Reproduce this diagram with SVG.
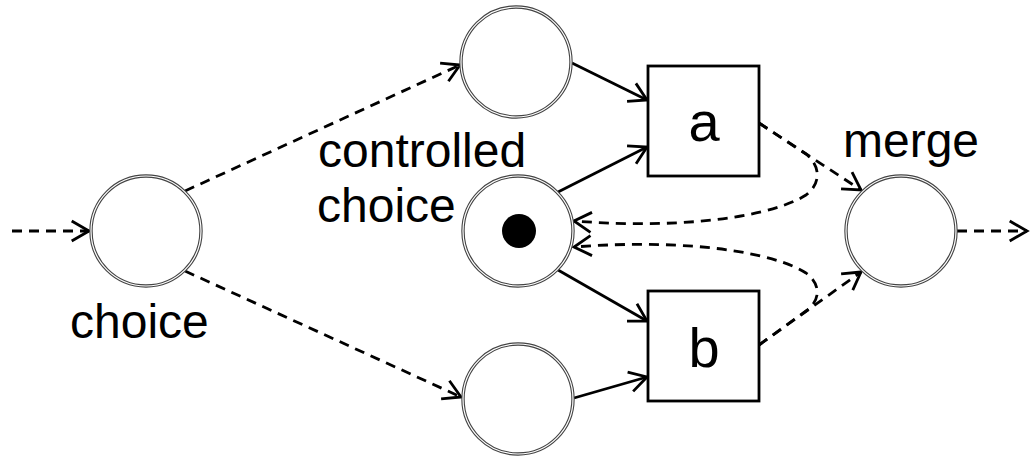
<svg xmlns="http://www.w3.org/2000/svg" width="1031" height="458" viewBox="0 0 1031 458">
  <style>
    .ring-out { fill: #ffffff; stroke: #444444; stroke-width: 3.4; }
    .ring-in { fill: none; stroke: #ffffff; stroke-width: 1.2; }
    .box { fill: #ffffff; stroke: #000000; stroke-width: 2.8; }
    .arc { fill: none; stroke: #000000; stroke-width: 2.8; marker-end: url(#head); }
    .dash { stroke-dasharray: 10 7; }
    .lbl { font-family: "Liberation Sans", Arial, sans-serif; font-size: 48px; fill: #000000; }
    .tr { font-family: "Liberation Sans", Arial, sans-serif; font-size: 56px; fill: #000000; text-anchor: middle; }
  </style>
  <defs>
    <marker id="head" markerUnits="userSpaceOnUse" orient="auto" markerWidth="40" markerHeight="40" refX="0" refY="0" viewBox="-20 -20 40 40" overflow="visible">
      <path d="M-17.3,-10 L0,0 L-17.3,10" fill="none" stroke="#000000" stroke-width="2.8" stroke-linejoin="miter"/>
    </marker>
  </defs>

  <rect width="1031" height="458" fill="#ffffff"/>

  <g id="connectors">
    <!-- entry and exit -->
    <path class="arc dash" d="M12,231 L89,231"/>
    <path class="arc dash" d="M957,231 L1027,231"/>
    <!-- choice to the two branch places -->
    <path class="arc dash" d="M185,191 L460,65"/>
    <path class="arc dash" d="M185,271 L461,397"/>
    <!-- places into transitions -->
    <path class="arc" d="M572,63 L647,100"/>
    <path class="arc" d="M558,192 L647,147"/>
    <path class="arc" d="M558,270 L647,321"/>
    <path class="arc" d="M574,398 L647,377"/>
    <!-- transitions into merge -->
    <path class="arc dash" d="M759,123 L861,190"/>
    <path class="arc dash" d="M759,345 L861,272"/>
    <!-- transitions back to the controlled choice place -->
    <path class="arc dash" d="M759,123 L806,154 C820,165 822,183 806,195 C775,215 690,230 574,221"/>
    <path class="arc dash" d="M759,345 L806,311 C820,301 822,285 806,273 C775,253 690,238 574,247"/>
  </g>

  <g id="p-choice">
    <circle class="ring-out" cx="146" cy="231" r="55"/>
    <circle class="ring-in" cx="146" cy="231" r="55"/>
    <text class="lbl" x="70" y="338">choice</text>
  </g>

  <g id="p-top">
    <circle class="ring-out" cx="516" cy="62" r="55"/>
    <circle class="ring-in" cx="516" cy="62" r="55"/>
  </g>

  <g id="p-controlled">
    <circle class="ring-out" cx="518" cy="231" r="55"/>
    <circle class="ring-in" cx="518" cy="231" r="55"/>
    <circle cx="519" cy="231" r="17" fill="#000000"/>
    <text class="lbl" x="318" y="167">controlled</text>
    <text class="lbl" x="317" y="222">choice</text>
  </g>

  <g id="p-bottom">
    <circle class="ring-out" cx="518" cy="399" r="55"/>
    <circle class="ring-in" cx="518" cy="399" r="55"/>
  </g>

  <g id="t-a">
    <rect class="box" x="648" y="66" width="111" height="110"/>
    <text class="tr" x="704" y="141">a</text>
  </g>

  <g id="t-b">
    <rect class="box" x="648" y="291" width="111" height="110"/>
    <text class="tr" x="704" y="367">b</text>
  </g>

  <g id="p-merge">
    <circle class="ring-out" cx="901" cy="231" r="55"/>
    <circle class="ring-in" cx="901" cy="231" r="55"/>
    <text class="lbl" x="843" y="157">merge</text>
  </g>
</svg>
